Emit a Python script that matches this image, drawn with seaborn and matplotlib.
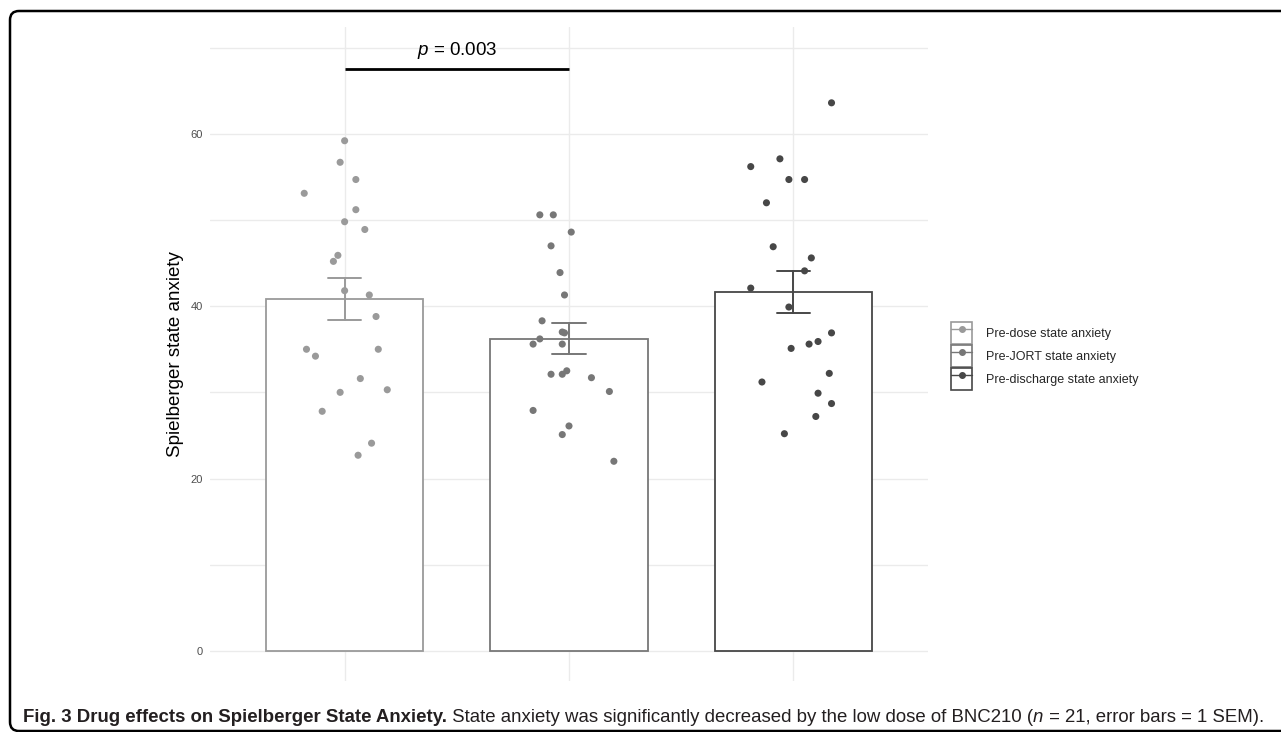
import matplotlib
matplotlib.use("Agg")
import numpy as np
import pandas as pd
import matplotlib.pyplot as plt
import seaborn as sns
from matplotlib.patches import Patch, FancyBboxPatch
from matplotlib.lines import Line2D
from matplotlib.legend_handler import HandlerTuple
from matplotlib.transforms import IdentityTransform

# values (21 participants per timepoint)
groups = ["Pre-dose state anxiety", "Pre-JORT state anxiety", "Pre-discharge state anxiety"]
colors = ["#9a9a9a", "#777777", "#474747"]

pre_dose = [59.2, 56.7, 54.7, 53.1, 51.2, 49.8, 48.9, 45.9, 45.2, 41.8, 41.3,
            38.8, 35.0, 35.0, 34.2, 31.6, 30.0, 30.3, 27.8, 24.1, 22.7]
pre_jort = [50.6, 50.6, 48.6, 47.0, 43.9, 41.3, 38.3, 37.0, 36.9, 36.2, 35.6,
            35.6, 32.5, 32.1, 32.1, 31.7, 30.1, 27.9, 26.1, 25.1, 22.0]
pre_discharge = [63.6, 57.1, 56.2, 54.7, 54.7, 52.0, 46.9, 45.6, 44.1, 42.1, 39.9,
                 36.9, 35.9, 35.6, 35.1, 32.2, 31.2, 29.9, 28.7, 27.2, 25.2]

# horizontal jitter of each point as drawn (fraction of category spacing)
jit_pre_dose = [0.00, -0.02, 0.05, -0.18, 0.05, 0.00, 0.09, -0.03, -0.05, 0.00, 0.11,
                0.14, -0.17, 0.15, -0.13, 0.07, -0.02, 0.19, -0.10, 0.12, 0.06]
jit_pre_jort = [-0.13, -0.07, 0.01, -0.08, -0.04, -0.02, -0.12, -0.03, -0.02, -0.13, -0.16,
                -0.03, -0.01, -0.08, -0.03, 0.10, 0.18, -0.16, 0.00, -0.03, 0.20]
jit_pre_discharge = [0.17, -0.06, -0.19, -0.02, 0.05, -0.12, -0.09, 0.08, 0.05, -0.19, -0.02,
                     0.17, 0.11, 0.07, -0.01, 0.16, -0.14, 0.11, 0.17, 0.10, -0.04]

sig_pair = (0, 1)
sig_y = 67.5
sig_label = "$p$ = 0.003"

caption_parts = [
    ("Fig. 3 Drug effects on Spielberger State Anxiety.", "bold", "normal"),
    (" State anxiety was significantly decreased by the low dose of BNC210 (", "normal", "normal"),
    ("n", "normal", "italic"),
    (" = 21, error bars = 1 SEM).", "normal", "normal"),
]

values = [pre_dose, pre_jort, pre_discharge]
jitters = [jit_pre_dose, jit_pre_jort, jit_pre_discharge]
df = pd.concat(
    [pd.DataFrame({"group": g, "value": v, "jit": j}) for g, v, j in zip(groups, values, jitters)],
    ignore_index=True,
)
df["xpos"] = df["group"].map({g: i for i, g in enumerate(groups)}) + df["jit"]

sns.set_theme(style="white")
plt.rcParams["font.family"] = ["Liberation Sans", "DejaVu Sans"]
plt.rcParams["mathtext.fontset"] = "custom"
plt.rcParams["mathtext.rm"] = "Liberation Sans"
plt.rcParams["mathtext.it"] = "Liberation Sans:italic"

W, H = 1281, 732
fig = plt.figure(figsize=(W / 100, H / 100), dpi=100)
ax = fig.add_axes([210 / W, 51 / H, 718 / W, 654 / H])

for g, c in zip(groups, colors):
    n_before = len(ax.patches)
    sns.barplot(data=df[df["group"] == g], x="group", y="value", order=groups,
                errorbar="se", width=0.7, capsize=0.15, color=c,
                err_kws={"color": c, "linewidth": 1.4}, ax=ax)
    for p in ax.patches[n_before:]:
        p.set_facecolor("white")
        p.set_edgecolor(c)
        p.set_linewidth(1.3)

for ln in ax.lines:
    ln.set_zorder(4)

for g, c in zip(groups, colors):
    sub = df[df["group"] == g]
    sns.scatterplot(x=sub["xpos"], y=sub["value"], color=c, s=26, edgecolor="none",
                    legend=False, ax=ax, zorder=3)

# significance bracket
ax.plot(list(sig_pair), [sig_y, sig_y], color="black", lw=2, solid_capstyle="butt", zorder=5)
ax.text(np.mean(sig_pair), sig_y + 0.9, sig_label, ha="center", va="bottom", fontsize=13.5,
        color="black")

ax.set_xlim(-0.6, 2.6)
ax.set_ylim(-3.5, 72.4)
ax.set_yticks([0, 20, 40, 60])
ax.set_yticks([10, 30, 50, 70], minor=True)
ax.set_xticks([0, 1, 2])
ax.set_xticklabels(["", "", ""])
ax.set_xlabel("")
ax.set_ylabel("Spielberger state anxiety", fontsize=13.5, color="black", labelpad=5)
ax.tick_params(axis="y", which="both", length=0, pad=5, labelsize=8, labelcolor="#4d4d4d")
ax.tick_params(axis="x", which="both", length=0)
ax.grid(axis="y", which="both", color="#ebebeb", lw=1)
ax.grid(axis="x", which="major", color="#ebebeb", lw=1)
ax.set_axisbelow(True)
for s in ax.spines.values():
    s.set_visible(False)

handles = [(Patch(facecolor="white", edgecolor=c, lw=1.2),
            Line2D([], [], color=c, marker="o", markersize=4, lw=1)) for c in colors]
fig.legend(handles, groups, loc="upper left", bbox_to_anchor=(951 / W, 1 - 322 / H),
           frameon=False, fontsize=9, handlelength=1.7, handleheight=2.3,
           handletextpad=1.1, labelspacing=0.1, borderpad=0, borderaxespad=0,
           handler_map={tuple: HandlerTuple(ndivide=1, pad=0)})

# rounded frame around figure + caption
frame = FancyBboxPatch((10, 1), W + 40, H - 12, boxstyle="round,pad=0,rounding_size=9",
                       transform=IdentityTransform(), fill=False, edgecolor="black", lw=1.8)
fig.patches.append(frame)

# caption, built piece by piece and fitted to the width of the frame
fs = 12
texts = []
for s, wt, st in caption_parts:
    texts.append(fig.text(0, 0, s, fontsize=fs, fontweight=wt, fontstyle=st, color="#231f20",
                          transform=IdentityTransform(), ha="left", va="baseline"))
fig.canvas.draw()
r = fig.canvas.get_renderer()
total = sum(t.get_window_extent(r).width for t in texts)
fs = fs * 1248 / total
for t in texts:
    t.set_fontsize(fs)
fig.canvas.draw()
x = 23
for t in texts:
    t.set_position((x, 10))
    x += t.get_window_extent(r).width

fig.savefig("out.png", dpi=100)
